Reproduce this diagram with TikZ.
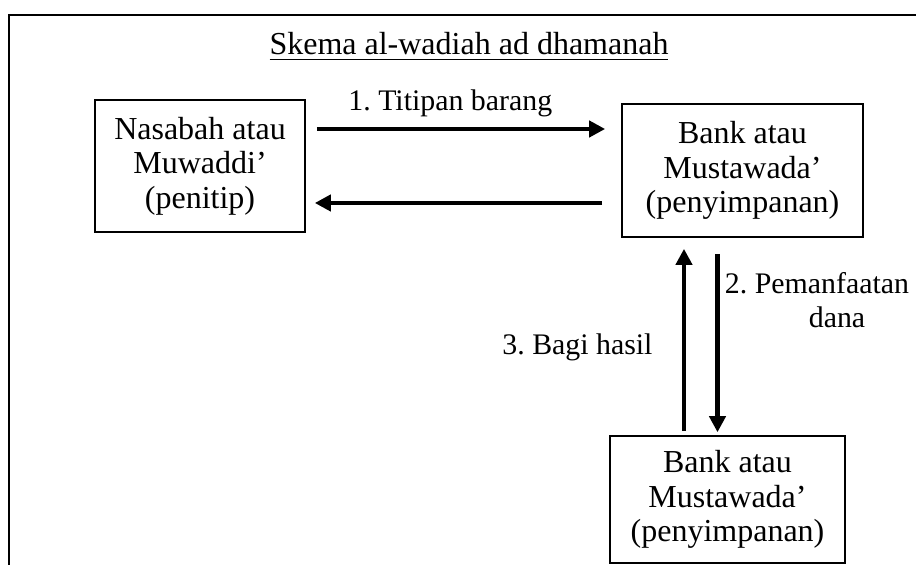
\documentclass[tikz,border=0pt]{standalone}
\usepackage{fontspec}
\setmainfont{Liberation Serif}
\usetikzlibrary{arrows.meta, positioning}

\begin{document}
\frenchspacing
\begin{tikzpicture}[
    x=0.375pt, y=-0.375pt,
    font=\fontsize{12}{12.9}\selectfont,
    party/.style={
        draw,
        line width=0.6pt,
        align=center,
        inner sep=0pt
    },
    label/.style={
        inner sep=1pt,
        align=center,
        font=\fontsize{11.2}{12.6}\selectfont
    },
    arrow/.style={-{Triangle[length=6pt,width=6pt]}, line width=1.6pt},
    frame/.style={line width=0.8pt}
]
\useasboundingbox (0,0) rectangle (916,565);

% Frame
\draw[frame] (916,15) -- (9,15) -- (9,565);

% Title
\node[anchor=base] (judul) at (469,55) {\underline{Skema al-wadiah ad dhamanah}};

% Parties
\node[party, minimum width=78.75pt, minimum height=49.5pt] (nasabah) at (200,166) {
Nasabah atau\\
Muwaddi’\\
(penitip)
};

\node[party, minimum width=90.4pt, minimum height=49.9pt] (bank) at (742.5,170.5) {
Bank atau\\
Mustawada’\\
(penyimpanan)
};

\node[party, minimum width=88.1pt, minimum height=47.6pt] (bankbawah) at (727.5,499.5) {
Bank atau\\
Mustawada’\\
(penyimpanan)
};

% Connections
\draw[arrow] ([shift={(11,-37)}]nasabah.east) -- node[label, above=2.8pt, xshift=-4pt] (titipan) {1. Titipan barang} ([shift={(-16,-41.5)}]bank.west);
\draw[arrow] ([shift={(-19,32.5)}]bank.west) -- ([shift={(9,37)}]nasabah.east);

\draw[arrow] ([shift={(-25,16)}]bank.south) -- node[label, pos=0.26, right=1pt] (manfaat) {2. Pemanfaatan\\\hspace*{15pt}dana} ([shift={(-10,-3)}]bankbawah.north);
\draw[arrow] ([shift={(-43.5,-4)}]bankbawah.north) -- node[label, pos=0.46, left=10pt] (hasil) {3. Bagi hasil} ([shift={(-58.5,11)}]bank.south);

\end{tikzpicture}
\end{document}
